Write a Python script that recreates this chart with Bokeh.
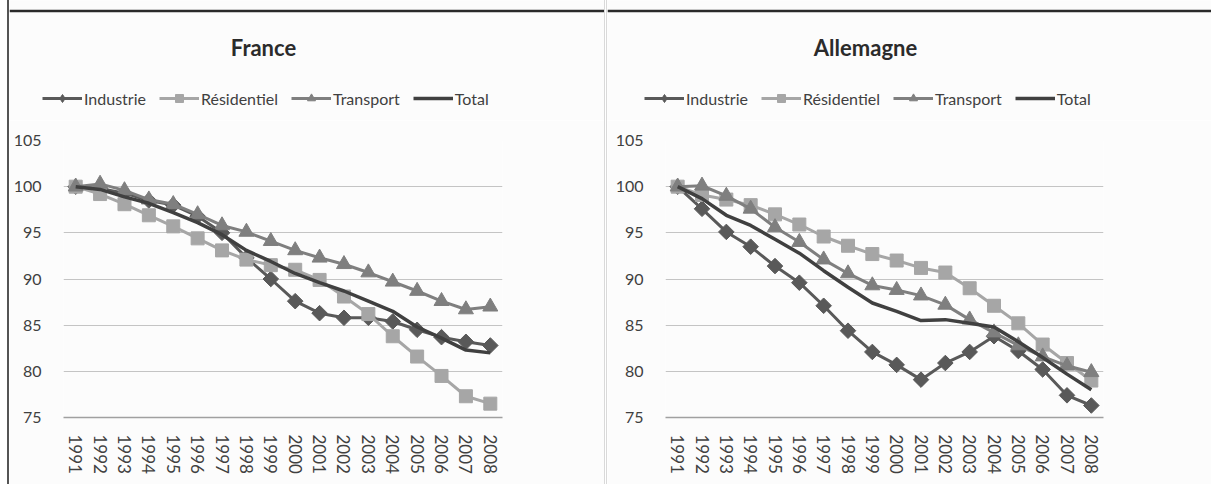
import math
from bokeh.plotting import figure
from bokeh.models import FactorRange, Range1d, FixedTicker, Legend, LegendItem, Span
from bokeh.layouts import row, column
from bokeh.core.properties import value
from bokeh.embed import file_html
from bokeh.resources import INLINE

years = [str(y) for y in range(1991, 2009)]
y_ticks = [75, 80, 85, 90, 95, 100, 105]
series_names = ["Industrie", "Résidentiel", "Transport", "Total"]

fr_industrie = [100, 99.8, 99.3, 98.5, 98.0, 96.8, 95.0, 92.3, 90.0, 87.6, 86.3, 85.8, 85.8, 85.4, 84.5, 83.7, 83.2, 82.8]
fr_residentiel = [100, 99.2, 98.1, 96.9, 95.7, 94.4, 93.1, 92.1, 91.5, 91.0, 89.9, 88.1, 86.2, 83.8, 81.6, 79.5, 77.3, 76.5]
fr_transport = [100, 100.3, 99.6, 98.6, 98.1, 97.0, 95.8, 95.1, 94.1, 93.1, 92.3, 91.6, 90.7, 89.7, 88.7, 87.6, 86.7, 87.0]
fr_total = [100, 99.7, 98.9, 98.2, 97.2, 96.1, 94.8, 93.1, 91.9, 90.6, 89.6, 88.7, 87.6, 86.5, 84.8, 83.6, 82.3, 82.0]

de_industrie = [100, 97.6, 95.1, 93.5, 91.4, 89.6, 87.1, 84.4, 82.1, 80.7, 79.1, 80.9, 82.1, 83.8, 82.2, 80.2, 77.4, 76.3]
de_residentiel = [100, 99.1, 98.6, 98.0, 97.0, 95.9, 94.6, 93.6, 92.7, 92.0, 91.2, 90.7, 89.0, 87.1, 85.2, 82.9, 80.9, 79.0]
de_transport = [100, 100.1, 99.0, 97.6, 95.6, 94.0, 92.1, 90.6, 89.3, 88.8, 88.2, 87.2, 85.6, 84.2, 82.8, 81.6, 80.6, 79.9]
de_total = [100, 98.7, 96.9, 95.8, 94.3, 92.8, 90.9, 89.1, 87.4, 86.5, 85.5, 85.6, 85.2, 84.8, 83.2, 81.5, 79.7, 78.0]

FONT = "Lato"
BG = "#fcfcfc"
TXT = "#404040"
STYLES = [
    dict(color="#595959", marker="square", angle=math.pi / 4, size=11, width=3),
    dict(color="#a6a6a6", marker="square", angle=0, size=13, width=3),
    dict(color="#7f7f7f", marker="triangle", angle=0, size=15, width=3),
    dict(color="#404040", marker=None, angle=0, size=0, width=3.5),
]
# legend glyphs ignore the marker angle, so the Industrie key uses a diamond marker
LEGEND_STYLES = [dict(STYLES[0], marker="diamond", angle=0, size=14)] + STYLES[1:]
NAN = float("nan")


def draw_series(p, xs, ys, st):
    rs = [p.line(xs, ys, line_color=st["color"], line_width=st["width"])]
    if st["marker"]:
        rs.append(p.scatter(xs, ys, marker=st["marker"], size=st["size"], angle=st["angle"],
                            fill_color=st["color"], line_color=st["color"]))
    return rs


def header(title, width, title_x, legend_x, styles, margin):
    h = figure(width=width, height=120, x_range=Range1d(0, width), y_range=Range1d(120, 0),
               x_axis_type=None, y_axis_type=None, min_border=0, outline_line_color=None,
               background_fill_color=BG, border_fill_color=BG, output_backend="svg",
               toolbar_location=None, styles=styles, margin=margin, frame_align=False)
    h.title.visible = False
    h.add_layout(Span(location=10.5, dimension="width", line_color="#2a2a2a", line_width=2.5))
    h.text(x=[title_x], y=[47], text=[title], text_font=value(FONT), text_font_size="22px",
           text_font_style="bold", text_align="center", text_baseline="middle", text_color="#2b2b2b")
    items = []
    for name, st in zip(series_names, LEGEND_STYLES):
        # legend-only renderers (a single undefined point, nothing is drawn on the canvas)
        items.append(LegendItem(label=name, renderers=draw_series(h, [NAN], [NAN], st)))
    legend = Legend(
        items=items, orientation="horizontal", location=(legend_x, 12),
        glyph_width=40, glyph_height=20, spacing=13, label_standoff=2,
        padding=0, margin=0, border_line_color=None, background_fill_alpha=0,
        label_text_font=FONT, label_text_font_size="16px", label_text_color=TXT,
    )
    h.add_layout(legend)
    return h


def chart(series, width, left, right, styles, margin):
    p = figure(
        width=width, height=364, x_range=FactorRange(*years, range_padding=0),
        y_range=Range1d(75, 105), output_backend="svg", toolbar_location=None,
        min_border_left=left, min_border_right=right, min_border_top=20, min_border_bottom=67,
        background_fill_color=BG, border_fill_color=BG, outline_line_color=None,
        styles=styles, margin=margin, frame_align=False,
    )
    p.title.visible = False
    p.xgrid.grid_line_color = None
    p.ygrid.grid_line_color = "#c4c4c4"
    p.ygrid.grid_line_width = 1
    p.yaxis.ticker = FixedTicker(ticks=y_ticks)
    p.yaxis.axis_line_color = None
    p.yaxis.major_tick_line_color = None
    p.yaxis.minor_tick_line_color = None
    p.yaxis.major_label_standoff = 16
    p.xaxis.axis_line_color = "#a0a0a0"
    p.xaxis.axis_line_width = 1.5
    p.xaxis.major_tick_line_color = None
    p.xaxis.minor_tick_line_color = None
    p.xaxis.major_label_orientation = "vertical"
    p.xaxis.major_label_standoff = 11
    for ax in (p.xaxis, p.yaxis):
        ax.major_label_text_font = FONT
        ax.major_label_text_color = TXT
    p.xaxis.major_label_text_font_size = "17px"
    p.yaxis.major_label_text_font_size = "16px"
    for ys, st in zip(series, STYLES):
        draw_series(p, years, ys, st)
    return p


left_style = {"border-left": "2px solid #555"}
right_style = {"border-left": "3px double #d9d9d9"}

h1 = header("France", 597, 254, 33, left_style, (0, 0, 0, 7))
p1 = chart([fr_industrie, fr_residentiel, fr_transport, fr_total], 597, 54, 104, left_style, (0, 0, 0, 7))
h2 = header("Allemagne", 607, 258, 37, right_style, 0)
p2 = chart([de_industrie, de_residentiel, de_transport, de_total], 607, 58, 111, right_style, 0)

layout = row(column(h1, p1), column(h2, p2))
open("out.html", "w").write(file_html(layout, INLINE))
